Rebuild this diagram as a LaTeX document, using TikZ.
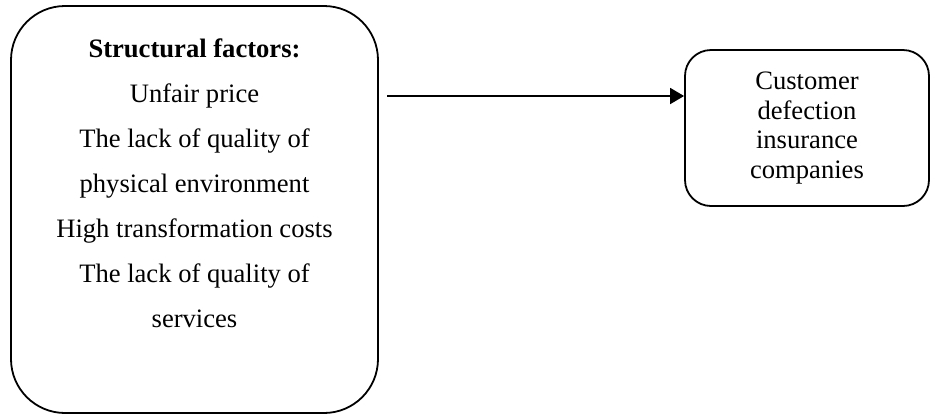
\documentclass[tikz,border=0pt]{standalone}
\usepackage{fontspec}
\setmainfont{Liberation Serif}
\usetikzlibrary{arrows.meta}

\begin{document}
\begin{tikzpicture}[x=0.5pt,y=-0.5pt,
                    box/.style={draw,line width=0.9pt,align=center,inner sep=0pt},
                    arr/.style={-{Triangle[length=7pt,width=8pt]},line width=0.9pt}]
                    \useasboundingbox (0,0) rectangle (933,414);
                    \node (factors)  [box,rounded corners=27pt,minimum width=183.5pt,minimum height=203.5pt,
                                      text depth=26pt,font=\fontsize{13.3}{22.5}\selectfont] at (194.5,209.5)
                                     {\textbf{Structural factors:}\\ Unfair price\\ The lack of quality of\\
                                      physical environment\\ High transformation costs\\ The lack of quality of\\ services};
                    \node (customer) [box,rounded corners=13pt,minimum width=122pt,minimum height=78pt,
                                      font=\fontsize{13.3}{14.7}\selectfont] at (807,128)
                                     {Customer\\ defection\\ insurance\\ companies};
                    \coordinate (tail) at (387,96);

                    \draw[arr] (tail) -- (tail -| customer.west);
                \end{tikzpicture}
\end{document}
